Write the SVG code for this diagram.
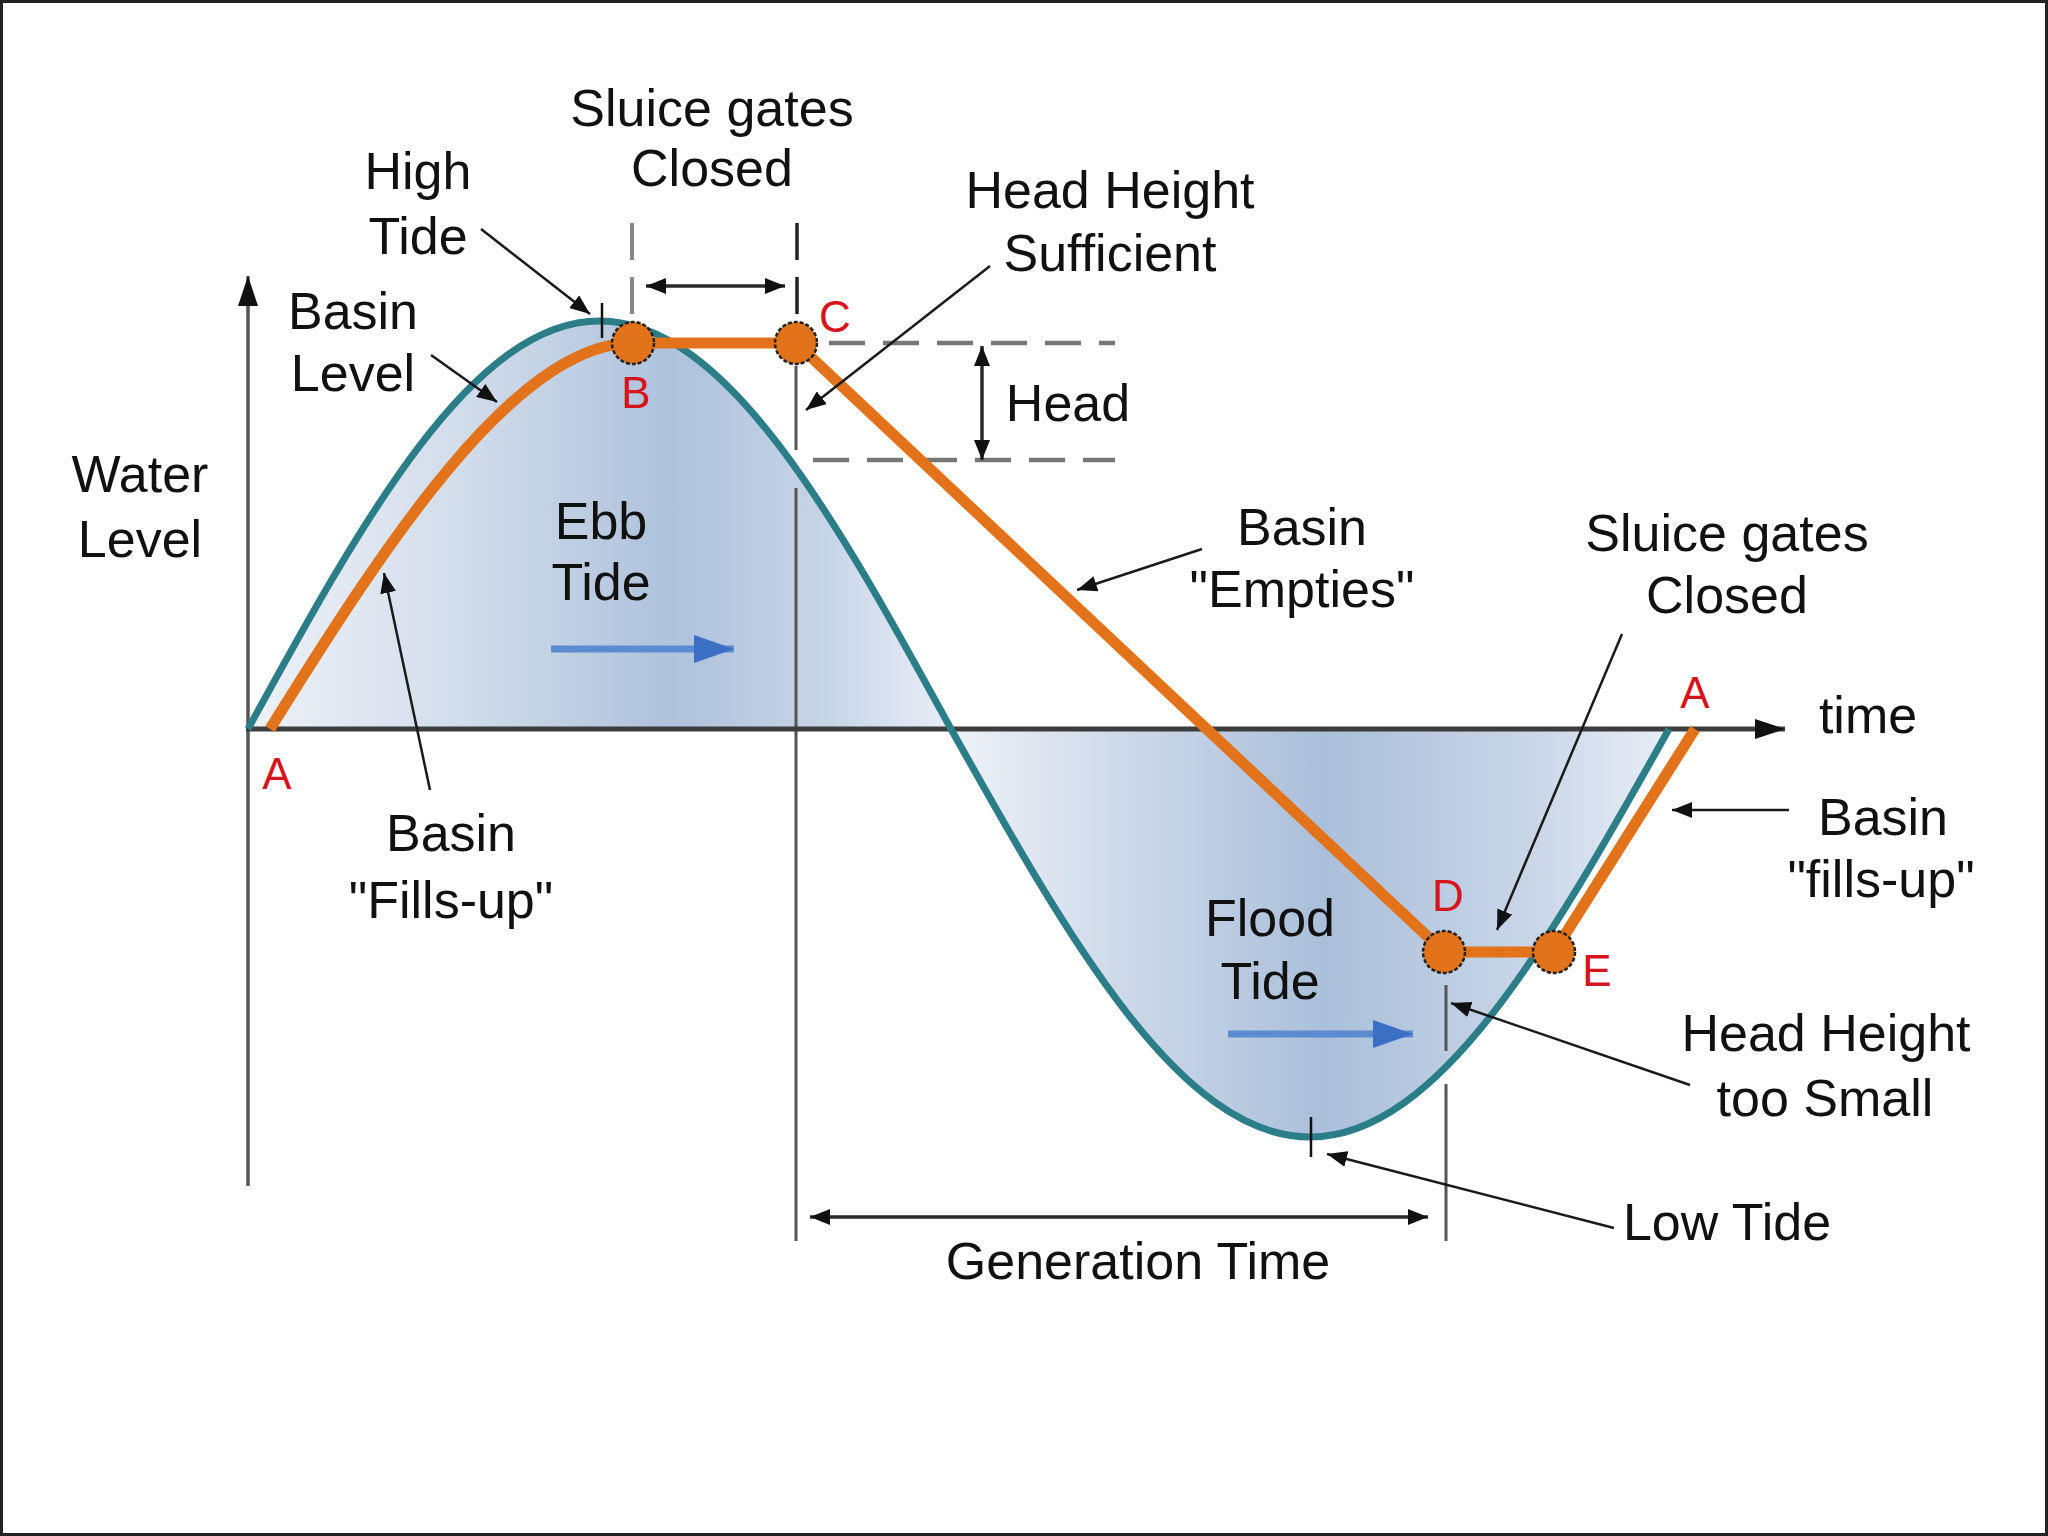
<svg xmlns="http://www.w3.org/2000/svg" width="2048" height="1536" viewBox="0 0 2048 1536">
<defs>
<style>
text { font-family: "Liberation Sans", Arial, sans-serif; font-size: 52px; fill: #111; text-anchor: middle; }
.pt { font-size: 44px; fill: #d6141c; }
.lead { stroke: #1a1a1a; stroke-width: 2.5; fill: none; }
.dim { stroke: #2a2a2a; stroke-width: 3.5; fill: none; }
.vline { stroke: #555; stroke-width: 3; fill: none; }
.dash { stroke: #777; stroke-width: 4.5; fill: none; stroke-dasharray: 36 18; }
.tick { stroke: #111; stroke-width: 2.5; }
.gate { fill: #e2731a; stroke: #222; stroke-width: 2.5; stroke-dasharray: 4 2; }
.blue { stroke: #5b8bd0; stroke-width: 7; fill: none; }
</style>
<marker id="ah" viewBox="0 0 20 16" refX="20" refY="8" markerWidth="20" markerHeight="16" markerUnits="userSpaceOnUse" orient="auto-start-reverse"><path d="M0,0 L20,8 L0,16 Z" fill="#111"/></marker>
<marker id="axh" viewBox="0 0 30 20" refX="30" refY="10" markerWidth="30" markerHeight="20" markerUnits="userSpaceOnUse" orient="auto"><path d="M0,0 L30,10 L0,20 Z" fill="#111"/></marker>
<marker id="bh" viewBox="0 0 40 28" refX="40" refY="14" markerWidth="40" markerHeight="28" markerUnits="userSpaceOnUse" orient="auto"><path d="M0,0 L40,14 L0,28 Z" fill="#3a6fc4"/></marker>
<linearGradient id="g1" gradientUnits="userSpaceOnUse" x1="248" y1="0" x2="951" y2="0">
<stop offset="0" stop-color="#eef2f8"/>
<stop offset="0.3" stop-color="#d2ddeb"/>
<stop offset="0.6" stop-color="#aec2dc"/>
<stop offset="0.8" stop-color="#c4d2e6"/>
<stop offset="1" stop-color="#e8eef6"/>
</linearGradient>
<linearGradient id="g2" gradientUnits="userSpaceOnUse" x1="951" y1="0" x2="1669" y2="0">
<stop offset="0" stop-color="#eef2f8"/>
<stop offset="0.25" stop-color="#ccd8e8"/>
<stop offset="0.52" stop-color="#aabfda"/>
<stop offset="0.8" stop-color="#c8d5e7"/>
<stop offset="1" stop-color="#e8eef6"/>
</linearGradient>
</defs>

<rect x="1.5" y="1.5" width="2045" height="1533" fill="#fff" stroke="#222" stroke-width="3"/>

<g id="fill">
<path d="M248,729 C362.6,520 472.3,321 599.5,321 C726.7,321 836.4,520 951,729 Z" fill="url(#g1)"/>
<path d="M951,729 C1068.1,938 1180.1,1137 1310,1137 C1439.9,1137 1551.9,938 1669,729 Z" fill="url(#g2)"/>
</g>

<g id="guides">
<line class="vline" x1="796" y1="366" x2="796" y2="450"/>
<line class="vline" x1="796" y1="488" x2="796" y2="1241"/>
<line class="vline" x1="1446" y1="985" x2="1446" y2="1051"/>
<line class="vline" x1="1446" y1="1084" x2="1446" y2="1241"/>
<line x1="632" y1="223" x2="632" y2="322" stroke="#888" stroke-width="4" stroke-dasharray="37 17"/>
<line x1="797" y1="223" x2="797" y2="322" stroke="#222" stroke-width="3.5" stroke-dasharray="37 17"/>
<line class="dash" x1="829" y1="343" x2="1115" y2="343"/>
<line class="dash" x1="813" y1="460" x2="1115" y2="460"/>
</g>

<g id="axes">
<line x1="248" y1="1186" x2="248" y2="276" stroke="#555" stroke-width="3.5" marker-end="url(#axh)"/>
<line x1="246" y1="729" x2="1785" y2="729" stroke="#3d3d3d" stroke-width="5" marker-end="url(#axh)"/>
</g>

<g id="tide-curve">
<path d="M248,729 C362.6,520 472.3,321 599.5,321 C726.7,321 836.4,520 951,729 C1068.1,938 1180.1,1137 1310,1137 C1439.9,1137 1551.9,938 1669,729" fill="none" stroke="#2b7d87" stroke-width="7"/>
</g>

<g id="basin-level">
<path d="M270,729 C380,553 513,343 633,343 L796,343 L1444,952 L1554,952 L1695,729" fill="none" stroke="#e2731a" stroke-width="11" stroke-linejoin="round"/>
</g>

<g id="connectors">
<line class="tick" x1="602" y1="303" x2="602" y2="338"/>
<line class="tick" x1="1311" y1="1117" x2="1311" y2="1157"/>
<line class="lead" x1="481" y1="229" x2="590" y2="314" marker-end="url(#ah)"/>
<line class="lead" x1="431" y1="355" x2="497" y2="402" marker-end="url(#ah)"/>
<line class="lead" x1="430" y1="790" x2="384" y2="573" marker-end="url(#ah)"/>
<line class="lead" x1="990" y1="266" x2="806" y2="410" marker-end="url(#ah)"/>
<line class="lead" x1="1202" y1="549" x2="1077" y2="590" marker-end="url(#ah)"/>
<line class="lead" x1="1622" y1="634" x2="1497" y2="930" marker-end="url(#ah)"/>
<line class="lead" x1="1789" y1="810" x2="1672" y2="810" marker-end="url(#ah)"/>
<line class="lead" x1="1690" y1="1085" x2="1451" y2="1003" marker-end="url(#ah)"/>
<line class="lead" x1="1614" y1="1228" x2="1327" y2="1154" marker-end="url(#ah)"/>
<line class="dim" x1="646" y1="286" x2="785" y2="286" marker-start="url(#ah)" marker-end="url(#ah)"/>
<line class="dim" x1="982" y1="346" x2="982" y2="460" marker-start="url(#ah)" marker-end="url(#ah)"/>
<line class="dim" x1="810" y1="1217" x2="1428" y2="1217" stroke-width="4.5" marker-start="url(#ah)" marker-end="url(#ah)"/>
<line class="blue" x1="551" y1="649" x2="734" y2="649" marker-end="url(#bh)"/>
<line class="blue" x1="1228" y1="1034" x2="1413" y2="1034" marker-end="url(#bh)"/>
</g>

<g id="point-B"><circle class="gate" cx="633" cy="343" r="21"/><text class="pt" x="636" y="408">B</text></g>
<g id="point-C"><circle class="gate" cx="796" cy="343" r="21"/><text class="pt" x="835" y="332">C</text></g>
<g id="point-D"><circle class="gate" cx="1444" cy="952" r="21"/><text class="pt" x="1448" y="911">D</text></g>
<g id="point-E"><circle class="gate" cx="1554" cy="952" r="21"/><text class="pt" x="1597" y="986">E</text></g>
<g id="point-A1"><text class="pt" x="277" y="789">A</text></g>
<g id="point-A2"><text class="pt" x="1695" y="708">A</text></g>

<g id="labels">
<text x="712" y="126">Sluice gates</text>
<text x="712" y="186">Closed</text>
<text x="418" y="189">High</text>
<text x="418" y="254">Tide</text>
<text x="1110" y="208">Head Height</text>
<text x="1110" y="271">Sufficient</text>
<text x="353" y="329">Basin</text>
<text x="353" y="391">Level</text>
<text x="1068" y="421">Head</text>
<text x="140" y="492">Water</text>
<text x="140" y="557">Level</text>
<text x="601" y="539">Ebb</text>
<text x="601" y="600">Tide</text>
<text x="1302" y="545">Basin</text>
<text x="1302" y="607">"Empties"</text>
<text x="1727" y="551">Sluice gates</text>
<text x="1727" y="613">Closed</text>
<text x="1868" y="733">time</text>
<text x="451" y="851">Basin</text>
<text x="451" y="918">"Fills-up"</text>
<text x="1883" y="835">Basin</text>
<text x="1881" y="897">"fills-up"</text>
<text x="1270" y="936">Flood</text>
<text x="1270" y="999">Tide</text>
<text x="1826" y="1051">Head Height</text>
<text x="1825" y="1116">too Small</text>
<text x="1727" y="1240">Low Tide</text>
<text x="1138" y="1279">Generation Time</text>
</g>
</svg>
